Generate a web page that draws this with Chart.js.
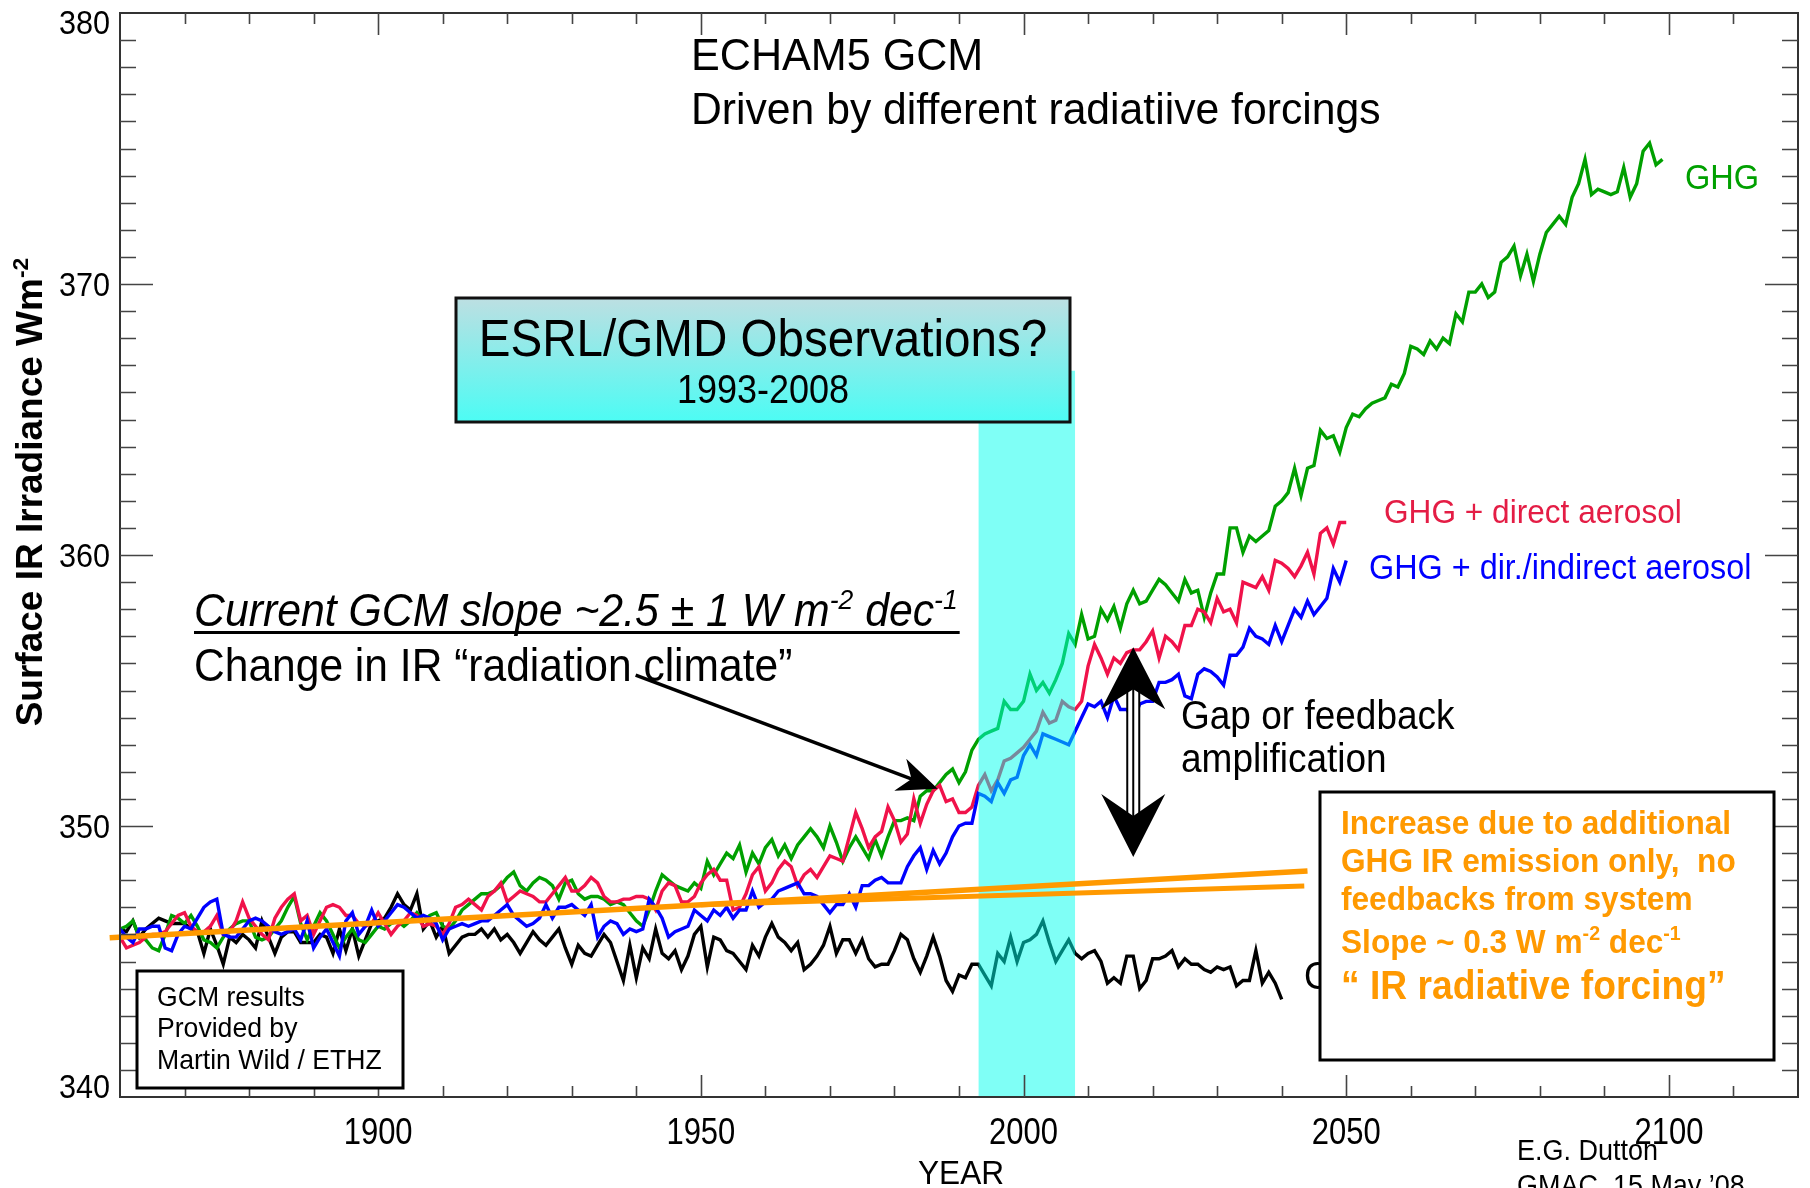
<!DOCTYPE html>
<html><head><meta charset="utf-8">
<script src="https://cdn.jsdelivr.net/npm/chart.js@4.4.0/dist/chart.umd.min.js"></script>
<style>html,body{margin:0;padding:0;background:#fff;}#wrap{width:1810px;height:1188px;}</style>
</head><body><div id="wrap"><canvas id="c" width="1810" height="1188"></canvas></div>
<script>
const firstYear = 1860;
// GHG only (1860-2099)
const ghg = [
346.2,346.3,346.5,345.9,345.8,345.5,345.4,346.0,346.7,346.6,
346.4,346.7,346.3,345.8,345.7,345.5,345.9,346.2,346.4,346.5,
346.5,345.9,345.8,345.9,346.2,346.5,347.0,347.4,346.4,345.8,
346.3,346.8,346.5,346.0,345.5,345.9,346.2,345.8,345.7,346.0,
346.3,346.2,346.4,346.5,346.3,346.5,346.8,346.5,346.7,346.8,
346.3,346.2,346.5,346.9,347.1,347.3,347.5,347.5,347.6,347.8,
348.1,348.3,347.8,347.6,347.9,348.1,348.0,347.8,347.3,347.9,
348.0,347.5,347.3,347.4,347.4,347.3,347.1,347.2,347.1,346.8,
346.5,346.3,346.9,347.6,348.2,348.0,347.8,347.7,347.6,347.9,
347.7,348.7,348.2,348.6,349.0,348.8,349.3,348.3,349.0,348.6,
349.2,349.5,348.9,349.3,348.8,349.3,349.6,349.9,349.6,349.2,
350.0,349.4,348.7,349.2,349.6,349.2,348.8,349.5,348.9,349.6,
350.2,350.2,350.3,350.2,351.1,351.3,351.3,351.6,351.9,352.1,
351.6,352.0,352.8,353.2,353.4,353.5,353.6,354.6,354.3,354.3,
354.6,355.6,355.0,355.3,354.9,355.4,356.0,357.1,356.7,357.8,
356.9,357.0,358.0,357.6,358.1,357.3,358.2,358.7,358.2,358.3,
358.7,359.1,358.9,358.6,358.3,359.1,358.6,358.7,357.7,358.6,
359.3,359.3,361.0,361.0,360.1,360.7,360.5,360.7,360.9,361.8,
362.0,362.3,363.2,362.2,363.2,363.3,364.6,364.3,364.4,363.8,
364.7,365.2,365.1,365.4,365.6,365.7,365.8,366.3,366.2,366.7,
367.7,367.6,367.4,367.9,367.6,368.0,367.8,368.9,368.6,369.7,
369.7,370.0,369.5,369.7,370.8,371.0,371.4,370.3,371.1,370.1,
371.1,371.9,372.2,372.5,372.2,373.2,373.7,374.6,373.3,373.5,
373.4,373.3,373.4,374.3,373.2,373.7,374.9,375.2,374.4,374.6];
// GHG + direct aerosol (1860-2050)
const ghgDirect = [
345.9,345.5,345.6,345.7,345.9,346.0,346.0,346.1,346.4,346.7,
346.8,346.3,346.1,346.1,346.3,346.7,346.0,346.1,346.5,347.2,
346.6,346.3,346.0,345.8,346.6,347.0,347.3,347.5,346.5,346.7,
346.0,346.5,347.0,347.1,347.0,346.7,346.7,346.4,346.3,346.4,
346.8,346.4,346.0,346.3,346.5,346.8,346.7,346.3,346.4,346.3,
346.0,346.4,347.0,347.1,347.3,347.1,346.9,347.4,347.6,347.9,
347.2,347.4,347.6,347.5,347.4,347.2,347.2,347.5,347.8,348.1,
347.6,347.6,347.8,348.1,347.9,347.4,347.2,347.2,347.3,347.3,
347.4,347.4,347.3,346.9,347.6,347.9,347.8,347.2,347.2,347.4,
347.9,348.2,348.4,348.0,348.0,346.9,347.0,347.5,348.2,348.5,
347.6,347.9,348.4,348.7,348.5,347.8,348.2,348.4,348.1,348.5,
348.9,348.8,348.7,349.6,350.5,349.9,349.2,349.6,349.8,350.7,
350.2,349.4,349.7,351.0,350.1,350.8,351.3,351.5,350.9,351.0,
350.5,350.5,350.7,351.5,351.9,351.3,351.7,352.4,352.5,352.7,
352.9,353.2,353.5,354.2,353.8,353.9,354.6,354.4,354.3,354.6,
355.9,356.7,356.2,355.6,356.2,356.0,356.4,356.5,356.5,356.8,
357.2,356.2,357.0,356.8,356.5,357.4,357.4,358.0,357.9,357.5,
358.4,357.9,358.0,357.5,359.0,358.9,358.8,359.2,358.7,359.8,
359.7,359.5,359.2,359.6,360.1,359.3,360.8,361.0,360.4,361.2,
361.2];
// GHG + direct/indirect aerosol (1860-2050)
const ghgDirIndirect = [
346.2,345.9,345.7,346.2,346.2,346.3,346.3,345.5,345.4,346.0,
346.3,346.2,346.6,347.0,347.2,347.3,346.0,345.9,345.9,346.2,
346.5,346.6,346.5,346.3,346.1,346.0,346.1,346.2,345.8,346.5,
345.5,345.9,346.2,345.7,345.2,346.5,346.8,346.0,346.3,346.9,
346.3,346.5,346.8,347.1,347.0,346.8,346.6,346.7,346.6,346.4,
345.8,346.2,346.3,346.4,346.3,346.4,346.5,346.5,346.7,346.9,
347.1,346.7,346.5,346.3,346.4,346.6,347.1,346.6,347.0,347.0,
347.1,346.9,346.7,347.1,345.9,346.3,346.5,346.4,346.0,346.2,
346.1,346.2,347.3,347.0,346.6,345.9,346.1,346.2,346.3,346.9,
346.7,346.5,346.9,346.7,347.0,346.6,346.9,346.9,347.6,347.0,
347.2,347.3,347.6,347.7,347.8,347.9,347.5,347.5,347.4,347.1,
346.8,347.1,347.1,347.5,347.0,347.8,347.8,348.0,348.1,347.9,
347.9,347.9,348.5,348.9,349.2,348.4,349.1,348.6,349.0,349.6,
350.0,350.1,350.1,351.2,351.1,350.9,351.6,351.2,351.7,351.8,
352.6,353.0,352.6,353.4,353.3,353.2,353.1,353.0,353.5,354.0,
354.5,354.4,354.6,354.0,354.8,354.3,354.3,353.9,354.5,354.6,
354.6,355.3,355.3,355.4,355.6,354.8,354.7,355.6,355.8,355.7,
355.5,355.2,356.3,356.3,356.6,357.3,357.0,356.9,356.7,357.4,
356.8,357.4,358.0,357.7,358.3,357.8,358.1,358.4,359.5,359.0,
359.8];
// Control run (1860-2040)
const control = [
346.2,346.1,346.5,345.9,346.2,346.4,346.6,346.5,346.4,346.4,
346.4,346.2,346.1,345.3,346.2,345.6,344.9,345.9,345.7,346.0,
345.8,345.5,346.5,345.9,345.3,345.9,346.1,346.1,345.7,345.7,
345.7,346.0,345.9,345.3,346.2,345.4,346.2,345.2,345.8,346.4,
346.5,346.6,347.0,347.5,347.1,346.9,347.5,346.2,346.5,345.9,
346.3,345.3,345.6,345.9,346.0,346.0,346.2,345.9,346.2,345.8,
346.0,345.7,345.3,345.7,346.1,345.8,345.6,345.9,346.2,345.5,
344.9,345.6,345.3,345.2,345.6,346.0,345.7,345.0,344.3,345.6,
344.4,345.5,345.1,346.2,345.3,345.1,345.4,344.7,345.2,346.0,
346.3,344.8,345.9,345.8,345.4,345.3,345.0,344.7,345.6,345.2,
345.9,346.4,345.9,345.7,345.4,345.7,344.7,344.9,345.2,345.6,
346.3,345.3,345.8,345.8,345.3,345.8,345.1,344.8,344.9,344.9,
345.4,346.0,345.8,345.1,344.6,345.2,345.9,345.2,344.3,343.9,
344.5,344.4,344.9,344.9,344.5,344.1,345.3,345.0,345.9,345.0,
345.7,345.8,346.0,346.5,345.7,345.0,345.4,345.8,345.3,345.1,
345.3,345.4,345.0,344.2,344.4,344.2,345.2,345.2,344.0,344.3,
345.1,345.1,345.2,345.4,344.8,345.1,344.9,344.9,344.7,344.6,
344.8,344.7,344.8,344.1,344.3,344.3,345.4,344.2,344.6,344.2,
343.6];
// GHG-only IR forcing lines (orange)
const forcingYearsA = [1858.4, 2044.0];
const forcingValuesA = [345.88, 348.34];
const forcingYearsB = [1950.0, 2043.5];
const forcingValuesB = [347.09, 347.79];
// Observation period band
const obsYears = [1993, 2008];
const obsTop = 366.8;
// Axis ticks
const xTickValues = [1900, 1950, 2000, 2050, 2100];
const xTickLabels = ['1900', '1950', '2000', '2050', '2100'];
const yTickValues = [340, 350, 360, 370, 380];
const yTickLabels = ['340', '350', '360', '370', '380'];

const GREEN = '#00a000', RED = '#f0124a', BLUE = '#0000ff', ORANGE = '#ff9900';
const FAM = '"Liberation Sans", Arial, Helvetica, sans-serif';
function F(size, weight, style) { return (style || 'normal') + ' ' + (weight || 'normal') + ' ' + size + 'px ' + FAM; }
function pts(arr) { return arr.map((v, i) => ({ x: firstYear + i, y: v })); }
function pairPts(xs, ys) { return xs.map((x, i) => ({ x: x, y: ys[i] })); }

// rich text: parts = [[text, isSuperscript], ...], sx = horizontal condensing
function rich(ctx, parts, x, y, size, o) {
  o = o || {};
  const w8 = o.weight || 'normal', st = o.style || 'normal', sx = o.sx || 1;
  const sub = size * 0.62;
  let total = 0;
  const ws = parts.map(p => { ctx.font = F(p[1] ? sub : size, w8, st); const m = ctx.measureText(p[0]).width * sx; total += m; return m; });
  let cx = o.align === 'center' ? x - total / 2 : (o.align === 'right' ? x - total : x);
  const start = cx;
  ctx.fillStyle = o.color || '#000';
  ctx.textAlign = 'left'; ctx.textBaseline = 'alphabetic';
  parts.forEach((p, i) => {
    ctx.font = F(p[1] ? sub : size, w8, st);
    ctx.save(); ctx.translate(cx, p[1] ? y - size * 0.38 : y); ctx.scale(sx, 1); ctx.fillText(p[0], 0, 0); ctx.restore();
    cx += ws[i];
  });
  return { start: start, width: total };
}
function txt(ctx, s, x, y, size, o) { return rich(ctx, [[s, false]], x, y, size, o); }

function stealth(ctx, tx, ty, ang, len, half, notch) {
  const c = Math.cos(ang), s = Math.sin(ang);
  const bx = tx - c * len, by = ty - s * len;
  const nx = tx - c * (len - notch), ny = ty - s * (len - notch);
  ctx.beginPath();
  ctx.moveTo(tx, ty);
  ctx.lineTo(bx - s * half, by + c * half);
  ctx.lineTo(nx, ny);
  ctx.lineTo(bx + s * half, by - c * half);
  ctx.closePath();
  ctx.fill();
}

const decor = {
  id: 'decor',
  afterDraw(chart) {
    const ctx = chart.ctx, xs = chart.scales.x, ys = chart.scales.y, a = chart.chartArea;
    const px = v => xs.getPixelForValue(v), py = v => ys.getPixelForValue(v);
    ctx.save();
    // frame
    ctx.strokeStyle = '#333'; ctx.lineWidth = 2;
    ctx.strokeRect(a.left, a.top, a.right - a.left, a.bottom - a.top);
    // ticks
    ctx.lineWidth = 1.6; ctx.strokeStyle = '#444';
    ctx.beginPath();
    for (let v = 341; v < 380; v++) {
      const L = v % 10 === 0 ? 33 : 16, y = Math.round(py(v)) + 0.5;
      ctx.moveTo(a.left, y); ctx.lineTo(a.left + L, y);
      ctx.moveTo(a.right, y); ctx.lineTo(a.right - L, y);
    }
    for (let yr = 1870; yr < 2120; yr += 10) {
      const L = yr % 50 === 0 ? 22 : 11, x = Math.round(px(yr)) + 0.5;
      ctx.moveTo(x, a.bottom); ctx.lineTo(x, a.bottom - L);
      ctx.moveTo(x, a.top); ctx.lineTo(x, a.top + L);
    }
    ctx.stroke();
    // tick labels
    xTickValues.forEach((v, i) => txt(ctx, xTickLabels[i], px(v), a.bottom + 47, 36, { align: 'center', sx: 0.86 }));
    yTickValues.forEach((v, i) => {
      const b = Math.min(Math.max(py(v) + 12, a.top + 21), a.bottom + 1);
      txt(ctx, yTickLabels[i], a.left - 10, b, 34, { align: 'right', sx: 0.9 });
    });
    // axis titles
    txt(ctx, 'YEAR', 961, 1184, 34, { align: 'center', sx: 0.93 });
    ctx.save();
    ctx.translate(29, 492); ctx.rotate(-Math.PI / 2);
    rich(ctx, [['Surface IR Irradiance Wm', false], ['-2', true]], 0, 13, 37, { weight: 'bold', align: 'center' });
    ctx.restore();
    // title
    txt(ctx, 'ECHAM5 GCM', 691, 70, 44, { sx: 0.98 });
    txt(ctx, 'Driven by different radiatiive forcings', 691, 124, 44, { sx: 0.97 });
    // observations box
    const g = ctx.createLinearGradient(0, 298, 0, 422);
    g.addColorStop(0, '#bddfe2'); g.addColorStop(1, '#4cfcf4');
    ctx.fillStyle = g; ctx.fillRect(456, 298, 614, 124);
    ctx.strokeStyle = '#111'; ctx.lineWidth = 3; ctx.strokeRect(456, 298, 614, 124);
    txt(ctx, 'ESRL/GMD Observations?', 763, 356, 52, { align: 'center', sx: 0.915 });
    txt(ctx, '1993-2008', 763, 403, 40, { align: 'center', sx: 0.9 });
    // slope text
    const r = rich(ctx, [['Current GCM slope ~2.5 \u00b1 1 W m', false], ['-2', true], [' dec', false], ['-1', true]], 194, 626, 46, { style: 'italic', sx: 0.93 });
    ctx.fillStyle = '#000'; ctx.fillRect(194, 631, r.width + 2, 3);
    txt(ctx, 'Change in IR \u201cradiation climate\u201d', 194, 681, 46, { sx: 0.925 });
    // arrow to GCM curve
    const ax0 = px(1939.9), ay0 = py(355.57), ax1 = px(1986.7), ay1 = py(351.37);
    const ang = Math.atan2(ay1 - ay0, ax1 - ax0);
    ctx.strokeStyle = '#000'; ctx.lineWidth = 3.5;
    ctx.beginPath(); ctx.moveTo(ax0, ay0); ctx.lineTo(ax1 - Math.cos(ang) * 24, ay1 - Math.sin(ang) * 24); ctx.stroke();
    ctx.fillStyle = '#000';
    stealth(ctx, ax1, ay1, ang, 40, 17, 12);
    // double arrow (gap)
    const dx = px(2017.0), dTop = py(356.6), dBot = py(348.86);
    ctx.fillStyle = '#fff'; ctx.fillRect(dx - 6, dTop + 38, 12, dBot - dTop - 76);
    ctx.strokeStyle = '#000'; ctx.lineWidth = 2;
    ctx.beginPath();
    ctx.moveTo(dx - 6, dTop + 38); ctx.lineTo(dx - 6, dBot - 38);
    ctx.moveTo(dx + 6, dTop + 38); ctx.lineTo(dx + 6, dBot - 38);
    ctx.moveTo(dx, dTop + 38); ctx.lineTo(dx, dBot - 38);
    ctx.stroke();
    ctx.fillStyle = '#000';
    stealth(ctx, dx, dTop, -Math.PI / 2, 62, 32, 20);
    stealth(ctx, dx, dBot, Math.PI / 2, 63, 32, 22);
    txt(ctx, 'Gap or feedback', 1181, 729, 40, { sx: 0.925 });
    txt(ctx, 'amplification', 1181, 772, 40, { sx: 0.925 });
    // series labels
    txt(ctx, 'GHG', 1685, 189, 35, { color: GREEN, sx: 0.93 });
    txt(ctx, 'GHG + direct aerosol', 1384, 523, 34, { color: '#e41d45', sx: 0.93 });
    txt(ctx, 'GHG + dir./indirect aerosol', 1369, 579, 35, { color: BLUE, sx: 0.925 });
    txt(ctx, 'CTRL', 1304, 989, 38, { sx: 0.93 });
    // orange forcing box
    ctx.fillStyle = '#fff'; ctx.fillRect(1320, 792, 454, 268);
    ctx.strokeStyle = '#000'; ctx.lineWidth = 3; ctx.strokeRect(1320, 792, 454, 268);
    const ob = { weight: 'bold', color: ORANGE, sx: 0.93 };
    txt(ctx, 'Increase due to additional', 1341, 834, 34, ob);
    txt(ctx, 'GHG IR emission only,  no', 1341, 872, 34, ob);
    txt(ctx, 'feedbacks from system', 1341, 910, 34, ob);
    rich(ctx, [['Slope ~ 0.3 W m', false], ['-2', true], [' dec', false], ['-1', true]], 1341, 953, 34, ob);
    txt(ctx, '\u201c IR radiative forcing\u201d', 1341, 999, 40, ob);
    // GCM results box
    ctx.fillStyle = '#fff'; ctx.fillRect(137, 971, 266, 117);
    ctx.strokeStyle = '#000'; ctx.lineWidth = 3; ctx.strokeRect(137, 971, 266, 117);
    const gb = { sx: 0.95 };
    txt(ctx, 'GCM results', 157, 1006, 28, gb);
    txt(ctx, 'Provided by', 157, 1037, 28, gb);
    txt(ctx, 'Martin Wild / ETHZ', 157, 1069, 28, gb);
    // credits
    txt(ctx, 'E.G. Dutton', 1517, 1160, 29, { sx: 0.93 });
    txt(ctx, 'GMAC, 15 May \u201908', 1517, 1195, 29, { sx: 0.93 });
    ctx.restore();
  }
};

const lineDs = (label, data, color, order) => ({
  label: label, data: data, borderColor: color, borderWidth: 3.4, pointRadius: 0, tension: 0, fill: false, order: order
});

new Chart(document.getElementById('c'), {
  type: 'line',
  data: {
    datasets: [
      lineDs('CTRL', pts(control), '#000', 7),
      lineDs('GHG', pts(ghg), GREEN, 6),
      lineDs('GHG + direct aerosol', pts(ghgDirect), RED, 5),
      lineDs('GHG + dir./indirect aerosol', pts(ghgDirIndirect), BLUE, 4),
      { label: 'Observations 1993-2008', data: pairPts(obsYears, [obsTop, obsTop]), borderWidth: 0, borderColor: 'rgba(0,0,0,0)',
        backgroundColor: 'rgba(0,255,238,0.5)', fill: { value: 340 }, pointRadius: 0, order: 3 },
      { label: 'IR forcing A', data: pairPts(forcingYearsA, forcingValuesA), borderColor: ORANGE, borderWidth: 5.5, pointRadius: 0, fill: false, clip: false, order: 1 },
      { label: 'IR forcing B', data: pairPts(forcingYearsB, forcingValuesB), borderColor: ORANGE, borderWidth: 5, pointRadius: 0, fill: false, clip: false, order: 2 }
    ]
  },
  options: {
    responsive: false, animation: false, devicePixelRatio: 1,
    layout: { padding: { left: 120, right: 12, top: 13, bottom: 91 } },
    plugins: { legend: { display: false }, tooltip: { enabled: false } },
    scales: {
      x: { type: 'linear', min: 1860, max: 2120, display: false },
      y: { type: 'linear', min: 340, max: 380, display: false }
    }
  },
  plugins: [decor]
});
</script></body></html>
